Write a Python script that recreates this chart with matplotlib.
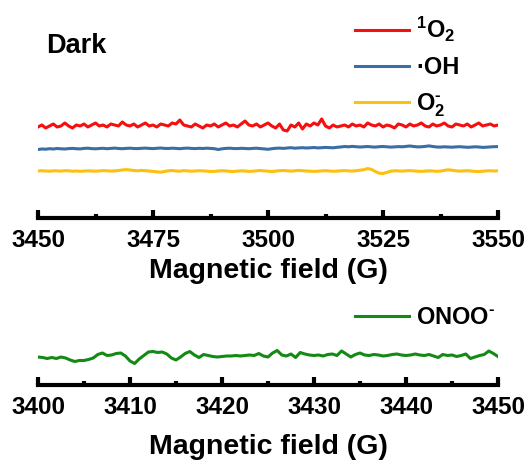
import numpy as np
import matplotlib
matplotlib.use("Agg")
import matplotlib.pyplot as plt
from matplotlib.ticker import MultipleLocator

plt.rcParams['font.family'] = ['Liberation Sans', 'DejaVu Sans']
plt.rcParams['font.weight'] = 'bold'
plt.rcParams['mathtext.fontset'] = 'custom'
plt.rcParams['mathtext.rm'] = 'Liberation Sans:bold'
plt.rcParams['mathtext.bf'] = 'Liberation Sans:bold'
plt.rcParams['mathtext.default'] = 'rm'

# ---- data ----
top_start, top_stop = 3450, 3550
bot_start, bot_stop = 3400, 3450
top_ticks = [3450, 3475, 3500, 3525, 3550]
bot_ticks = [3400, 3410, 3420, 3430, 3440, 3450]

labels_top = [r'$^{1}$O$_{2}$', '·OH', r'O$_{2}^{\text{-}}$']
label_bot = r'ONOO$^{\text{-}}$'

red = [91, 93, 90, 92, 94, 91, 92, 95, 92, 90,
       93, 92, 94, 91, 93, 95, 92, 93, 91, 94,
       93, 92, 96, 93, 92, 94, 91, 93, 95, 92,
       93, 91, 94, 93, 92, 95, 94, 98, 93, 92,
       91, 94, 92, 90, 93, 92, 94, 91, 93, 95,
       92, 93, 91, 94, 97, 93, 92, 94, 91, 93,
       95, 92, 90, 94, 88, 87, 93, 91, 95, 89,
       94, 92, 95, 93, 99, 92, 90, 93, 91, 92,
       93, 91, 94, 92, 93, 91, 95, 93, 92, 94,
       91, 93, 92, 90, 94, 93, 91, 94, 92, 93,
       95, 92, 91, 94, 92, 93, 95, 92, 91, 94,
       93, 92, 94, 91, 93, 95, 92, 93, 94, 92, 93]

blue = [68.5, 69, 68.8, 69.3, 69, 69.5, 69.2, 69, 69.4, 69.6,
        69.3, 69.1, 69.6, 69.8, 69.4, 69.2, 69.5, 69.7, 69.3, 69.6,
        69.9, 69.5, 69.3, 69.6, 69.8, 69.5, 69.4, 69.7, 69.9, 69.6,
        69.4, 69.7, 70, 69.6, 69.5, 69.8, 69.6, 69.3, 69.7, 69.9,
        69.6, 69.4, 69.7, 69.5, 69.8, 69.6, 69.3, 68.5, 69.2, 69.6,
        69.8, 69.5, 69.4, 69.7, 69.5, 69.3, 69.6, 69.8, 69.4, 69.1,
        68.7, 69.3, 69.7, 69.9, 69.6, 70, 70.3, 69.8, 70.1, 70.3,
        70, 70.2, 70.5, 70.1, 70.3, 70.6, 70.4, 70.2, 70.7, 71,
        71.5, 71.2, 71.6, 71.3, 71, 71.2, 71.5, 71.1, 70.9, 71.3,
        71.5, 71.2, 70.9, 71.1, 71.4, 71.2, 71.6, 72, 71.5, 71.1,
        71.2, 71.6, 72.1, 71.5, 71, 70.9, 71.2, 71, 70.8, 71.1,
        71.3, 71, 70.7, 70.9, 71.2, 71, 70.6, 70.8, 71.1, 71.3, 71.4]

yellow = [47, 47.3, 47, 46.8, 47.2, 47.1, 46.9, 47.3, 47.2, 46.8,
          47, 46.7, 46.9, 47.2, 47, 46.8, 47.1, 47.4, 47.2, 46.9,
          47.1, 47.5, 48, 48.4, 48, 47.5, 47.2, 47.6, 47.3, 47,
          46.6, 46.2, 45.8, 46.5, 47.2, 47.5, 47, 46.8, 47.4, 47.1,
          46.8, 47, 47.3, 47.1, 46.9, 46.5, 46.6, 47, 47.3, 47.1,
          46.7, 46.5, 46.9, 47.2, 47, 46.6, 46.8, 47.2, 47.5, 47.1,
          46.8, 46.5, 46.9, 47.3, 47.5, 47.2, 46.9, 47.2, 47.6, 47.3,
          47, 46.8, 46.6, 46.8, 47.1, 47.3, 47, 46.7, 46.9, 47.2,
          47.4, 47.1, 46.9, 47.3, 47.8, 48.3, 49.5, 48.6, 46.5, 44.8,
          44.5, 45.6, 46.8, 47.3, 47.1, 46.9, 47.2, 47.4, 47.1, 46.8,
          46.6, 46.9, 47.2, 47, 46.7, 46.9, 47.6, 48.2, 47.8, 47.2,
          46.9, 47.1, 47.3, 47, 46.6, 46.4, 46.8, 47.1, 47.3, 47.0, 47.2]

green = [28, 27.5, 26.5, 27.5, 26.5, 28, 27, 25, 23.5, 24.5,
         24.5, 25.5, 27, 30.5, 32, 29.5, 30, 31.5, 32, 29,
         24, 21.5, 26, 29.5, 33, 33.5, 32.5, 33, 31, 27,
         25, 28, 31.5, 33.5, 30, 27.5, 30.5, 29.5, 28.5, 28,
         28.5, 29, 29, 29.5, 29, 29.5, 30, 29.5, 31.5, 29,
         28, 32, 34.5, 30, 29, 31, 27.5, 32.5, 31, 30,
         29.5, 30, 29, 30.5, 31, 29.5, 34, 31, 28, 30.5,
         32, 30, 29.5, 30.5, 30, 29, 29.5, 30.5, 31, 30,
         29.5, 30, 31, 30, 29.5, 30.5, 29, 27.5, 30.5, 29.5,
         30, 28.5, 29.5, 31, 26.5, 28, 29.5, 30.5, 34, 31.5,
         28.5]

colors_top = ['#f50f0f', '#3a6ea5', '#fdc00f']
color_bot = '#138a13'

# ---- figure ----
W, H = 529, 462
fig = plt.figure(figsize=(W / 100, H / 100), dpi=100)

def frac_rect(x0, x1, ytop, ybot):
    return [x0 / W, 1 - ybot / H, (x1 - x0) / W, (ybot - ytop) / H]

ax1 = fig.add_axes(frac_rect(38, 498, 20, 218))
ax2 = fig.add_axes(frac_rect(38, 498, 300, 385))

x_top = np.linspace(top_start, top_stop, len(red))
x_bot = np.linspace(bot_start, bot_stop, len(green))

for vals, c, lab in zip([red, blue, yellow], colors_top, labels_top):
    ax1.plot(x_top, vals, color=c, lw=2.2, label=lab)
ax2.plot(x_bot, green, color=color_bot, lw=2.2, label=label_bot)

ax1.set_ylim(0, 198)
ax2.set_ylim(0, 85)
ax1.set_xlim(top_start, top_stop)
ax2.set_xlim(bot_start, bot_stop)
ax1.set_xticks(top_ticks)
ax2.set_xticks(bot_ticks)
ax1.xaxis.set_minor_locator(MultipleLocator(12.5))
ax2.xaxis.set_minor_locator(MultipleLocator(5))

for ax in (ax1, ax2):
    for s in ('top', 'left', 'right'):
        ax.spines[s].set_visible(False)
    ax.spines['bottom'].set_linewidth(3)
    ax.set_yticks([])
    ax.tick_params(axis='x', which='major', direction='in', length=6, width=3,
                   labelsize=17.5, pad=8)
    ax.tick_params(axis='x', which='minor', direction='in', length=3, width=3)
    for t in ax.get_xticklabels():
        t.set_fontweight('bold')
    ax.set_xlabel('Magnetic field (G)', fontsize=20.5, fontweight='bold')
    ax.patch.set_alpha(0)

ax1.xaxis.labelpad = 4
ax2.xaxis.labelpad = 11

fig.text(46 / W, 1 - 46 / H, 'Dark', fontsize=19.5, fontweight='bold', va='center', ha='left')

leg1 = ax1.legend(loc='upper left', bbox_to_anchor=(355 / W, 1 - 15 / H),
                  bbox_transform=fig.transFigure, frameon=False, fontsize=17,
                  handlelength=2.3, handletextpad=0.3, labelspacing=0.52,
                  borderpad=0, borderaxespad=0)
leg2 = ax2.legend(loc='upper left', bbox_to_anchor=(355 / W, 1 - 306 / H),
                  bbox_transform=fig.transFigure, frameon=False, fontsize=17,
                  handlelength=2.3, handletextpad=0.3,
                  borderpad=0, borderaxespad=0)

fig.savefig('out.png', dpi=100)
